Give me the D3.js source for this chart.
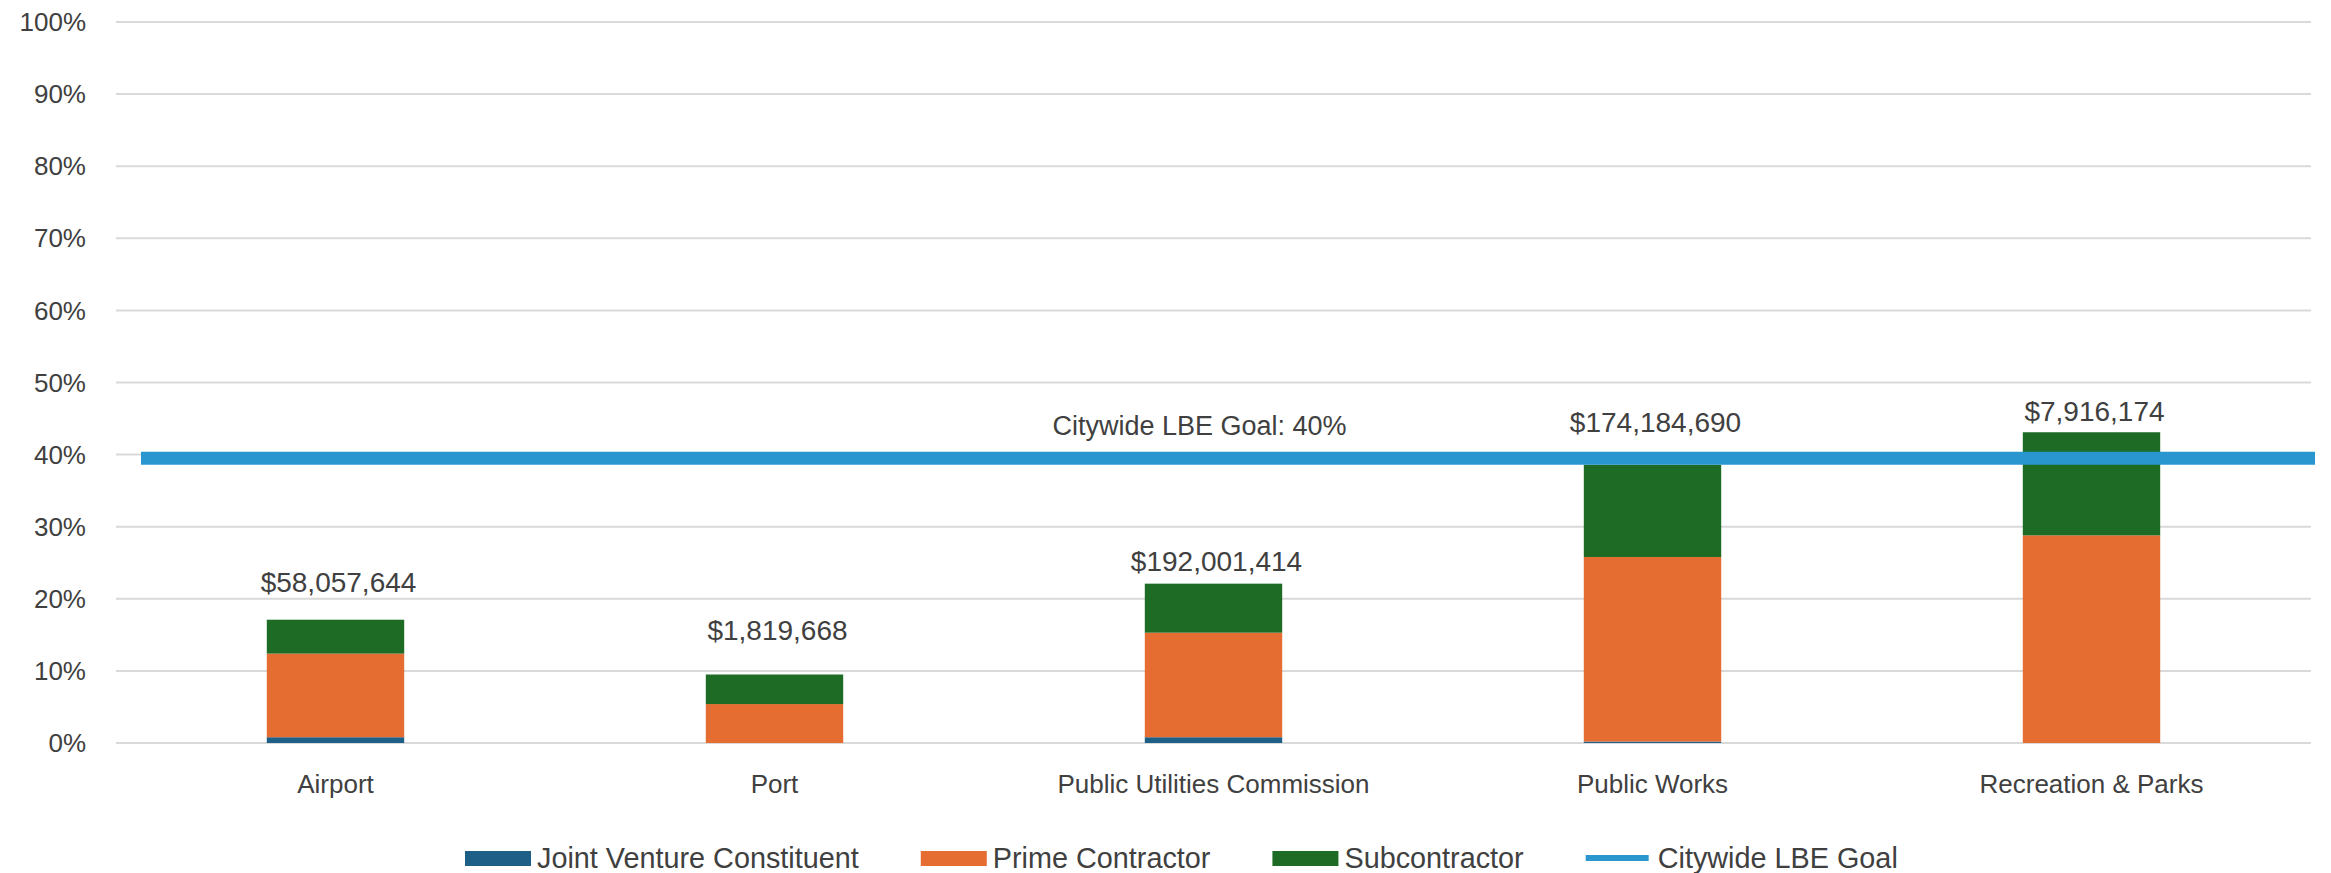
<!DOCTYPE html>
<html lang="en">
<head>
    <meta charset="UTF-8">
    <title>LBE Participation by Department</title>
    <script src="https://d3js.org/d3.v7.min.js"></script>
    <style>
        body{
            margin: 0;
            background: #fff;
        }
        svg{
            display: block;
        }
        text{
            font-family: "Liberation Sans", Arial, sans-serif;
            fill: #404040;
        }
    </style>
</head>
<body>
<script>

    // data (percent of awarded value)
    const departments = ["Airport", "Port", "Public Utilities Commission", "Public Works", "Recreation & Parks"]
    const jointVenture = [0.8, 0, 0.8, 0.2, 0]
    const primeContractor = [11.6, 5.4, 14.5, 25.6, 28.8]
    const subcontractor = [4.7, 4.1, 6.8, 12.8, 14.3]
    const totalAwards = ["$58,057,644", "$1,819,668", "$192,001,414", "$174,184,690", "$7,916,174"]
    // level (in %) where each amount label sits
    const labelAt = [20.9, 14.3, 23.8, 43.2, 44.6]
    const goal = 39.5
    const goalLabel = "Citywide LBE Goal: 40%"
    const yTicks = [0, 10, 20, 30, 40, 50, 60, 70, 80, 90, 100]

    const seriesNames = ["Joint Venture Constituent", "Prime Contractor", "Subcontractor"]
    const colors = {
        "Joint Venture Constituent": "#1d5f86",
        "Prime Contractor": "#e56d31",
        "Subcontractor": "#1d6b25"
    }
    const goalColor = "#2a96d0"

    const width = 2331
    const height = 873

    let svg = d3.select("body").append("svg")
                .attr("width", width)
                .attr("height", height)
                .attr("viewBox", `0 0 ${width} ${height}`)

    const x = d3.scaleBand()
                .domain(departments)
                .range([116, 2311])
                .paddingInner(0.687)
                .paddingOuter(0.3435)

    const y = d3.scaleLinear()
                .domain([0, 100])
                .range([743, 22])

    // table for the stack
    const rows = departments.map((d, i) => ({
        dept: d,
        "Joint Venture Constituent": jointVenture[i],
        "Prime Contractor": primeContractor[i],
        "Subcontractor": subcontractor[i]
    }))
    const stacked = d3.stack().keys(seriesNames)(rows)

    // gridlines
    svg.append("g")
        .selectAll("line")
        .data(yTicks)
        .enter()
        .append("line")
        .attr("x1", x.range()[0])
        .attr("x2", x.range()[1])
        .attr("y1", d => y(d))
        .attr("y2", d => y(d))
        .attr("stroke", "#d9d9d9")
        .attr("stroke-width", 2)

    // y axis labels
    svg.append("g")
        .selectAll("text")
        .data(yTicks)
        .enter()
        .append("text")
        .attr("x", 86)
        .attr("y", d => y(d))
        .attr("dy", "0.35em")
        .attr("text-anchor", "end")
        .attr("font-size", 26)
        .text(d => d + "%")

    // stacked bars
    svg.append("g")
        .selectAll("g")
        .data(stacked)
        .enter()
        .append("g")
        .attr("fill", d => colors[d.key])
        .selectAll("rect")
        .data(d => d)
        .enter()
        .append("rect")
        .attr("x", d => x(d.data.dept))
        .attr("width", x.bandwidth())
        .attr("y", d => y(d[1]))
        .attr("height", d => y(d[0]) - y(d[1]))

    // goal line
    svg.append("line")
        .attr("x1", x.range()[0] + 25)
        .attr("x2", x.range()[1] + 4)
        .attr("y1", y(goal))
        .attr("y2", y(goal))
        .attr("stroke", goalColor)
        .attr("stroke-width", 13)

    svg.append("text")
        .attr("x", x("Public Utilities Commission") + x.bandwidth() / 2 - 14)
        .attr("y", y(goal) - 23)
        .attr("text-anchor", "middle")
        .attr("font-size", 27)
        .text(goalLabel)

    // amount labels
    svg.append("g")
        .selectAll("text")
        .data(departments)
        .enter()
        .append("text")
        .attr("x", d => x(d) + x.bandwidth() / 2 + 3)
        .attr("y", (d, i) => y(labelAt[i]))
        .attr("text-anchor", "middle")
        .attr("font-size", 28)
        .text((d, i) => totalAwards[i])

    // category labels
    svg.append("g")
        .selectAll("text")
        .data(departments)
        .enter()
        .append("text")
        .attr("x", d => x(d) + x.bandwidth() / 2)
        .attr("y", 793)
        .attr("text-anchor", "middle")
        .attr("font-size", 26)
        .text(d => d)

    // legend
    const legendItems = seriesNames.map(s => ({name: s, color: colors[s], type: "rect"}))
    legendItems.push({name: "Citywide LBE Goal", color: goalColor, type: "line"})

    let lx = 465
    const ly = 858
    legendItems.forEach(item => {
        if (item.type === "rect") {
            svg.append("rect")
                .attr("x", lx)
                .attr("y", ly - 7)
                .attr("width", 66)
                .attr("height", 15)
                .attr("fill", item.color)
        } else {
            svg.append("line")
                .attr("x1", lx)
                .attr("x2", lx + 63)
                .attr("y1", ly)
                .attr("y2", ly)
                .attr("stroke", item.color)
                .attr("stroke-width", 6)
        }
        let t = svg.append("text")
                .attr("x", lx + 72)
                .attr("y", ly + 10)
                .attr("font-size", 28.8)
                .text(item.name)
        lx = lx + 72 + t.node().getComputedTextLength() + 62
    })

</script>
</body>
</html>
